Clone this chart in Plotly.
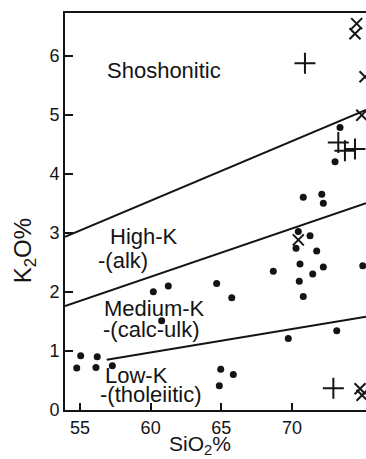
import plotly.graph_objects as go

# --- data ---
dot_sio2 = [55.05, 56.22, 54.77, 56.13, 57.29, 60.19, 61.25, 64.67, 65.74, 60.78,
            64.96, 65.85, 64.86, 70.80, 72.11, 72.22, 70.45, 71.28, 70.29, 71.75,
            68.68, 70.57, 72.22, 71.47, 70.52, 70.80, 75.01, 73.40, 73.05, 69.74, 73.17]
dot_k2o = [0.92, 0.90, 0.71, 0.72, 0.75, 2.00, 2.10, 2.14, 1.90, 1.51,
           0.69, 0.60, 0.41, 3.60, 3.65, 3.50, 3.02, 2.95, 2.74, 2.69,
           2.35, 2.47, 2.42, 2.30, 2.18, 1.92, 2.44, 4.78, 4.20, 1.21, 1.34]

plus_sio2 = [70.92, 73.28, 73.75, 74.46, 72.93]
plus_k2o = [5.87, 4.53, 4.39, 4.42, 0.37]

cross_sio2 = [74.58, 74.46, 75.17, 74.94, 70.45, 74.82, 74.96]
cross_k2o = [6.54, 6.37, 5.64, 4.99, 2.88, 0.36, 0.25]

# boundary lines
shosh_sio2 = [53.94, 75.24]
shosh_k2o = [2.93, 5.08]
highk_sio2 = [53.94, 75.24]
highk_k2o = [1.76, 3.50]
lowk_sio2 = [56.89, 75.24]
lowk_k2o = [0.85, 1.58]

x_ticks = [55, 60, 65, 70]
y_ticks = [0, 1, 2, 3, 4, 5, 6]

labels = ["Shoshonitic", "High-K", "-(alk)", "Medium-K", "-(calc-ulk)", "Low-K", "-(tholeiitic)"]
label_x = [60.98, 59.53, 58.04, 60.27, 60.06, 59.0, 59.99]
label_y = [5.75, 2.94, 2.53, 1.72, 1.37, 0.59, 0.27]

x_title = "SiO<sub>2</sub>%"
y_title = "K<sub>2</sub>O%"

INK = "#141414"
FONT = "Liberation Sans"

fig = go.Figure()
for xs, ys in [(shosh_sio2, shosh_k2o), (highk_sio2, highk_k2o), (lowk_sio2, lowk_k2o)]:
    fig.add_trace(go.Scatter(x=xs, y=ys, mode="lines", line=dict(color=INK, width=2),
                             showlegend=False, hoverinfo="skip"))

fig.add_trace(go.Scatter(x=dot_sio2, y=dot_k2o, mode="markers",
                         marker=dict(symbol="circle", size=7, color=INK), showlegend=False))
fig.add_trace(go.Scatter(x=plus_sio2, y=plus_k2o, mode="markers",
                         marker=dict(symbol="cross-thin", size=15, line=dict(color=INK, width=2)),
                         showlegend=False))
fig.add_trace(go.Scatter(x=cross_sio2, y=cross_k2o, mode="markers",
                         marker=dict(symbol="x-thin", size=11, line=dict(color=INK, width=2)),
                         showlegend=False))

for t, x, y in zip(labels, label_x, label_y):
    fig.add_annotation(x=x, y=y, text=t, showarrow=False, xanchor="center", yanchor="middle",
                       font=dict(family=FONT, size=22, color=INK))

# axis titles placed as in the reference
fig.add_annotation(xref="paper", yref="paper", x=0.449, y=-0.087, text=x_title,
                   showarrow=False, xanchor="center", yanchor="middle",
                   font=dict(family=FONT, size=21, color=INK))
fig.add_annotation(xref="paper", yref="paper", x=-0.136, y=0.40, text=y_title,
                   showarrow=False, xanchor="center", yanchor="middle", textangle=-90,
                   font=dict(family=FONT, size=24, color=INK))

fig.update_layout(
    width=366, height=459,
    margin=dict(l=65, r=0, t=13, b=49),
    paper_bgcolor="white", plot_bgcolor="white",
    font=dict(family=FONT, color=INK),
    xaxis=dict(range=[53.94, 75.24], tickvals=x_ticks, ticks="inside", ticklen=7,
               tickwidth=2, tickcolor=INK, showline=True, linecolor=INK, linewidth=2,
               mirror=True, showgrid=False, zeroline=False,
               tickfont=dict(family=FONT, size=18, color=INK)),
    yaxis=dict(range=[0, 6.72], tickvals=y_ticks, ticks="inside", ticklen=8,
               tickwidth=2, tickcolor=INK, showline=True, linecolor=INK, linewidth=2,
               showgrid=False, zeroline=False,
               tickfont=dict(family=FONT, size=18, color=INK)),
)

fig.write_html("out.html")
